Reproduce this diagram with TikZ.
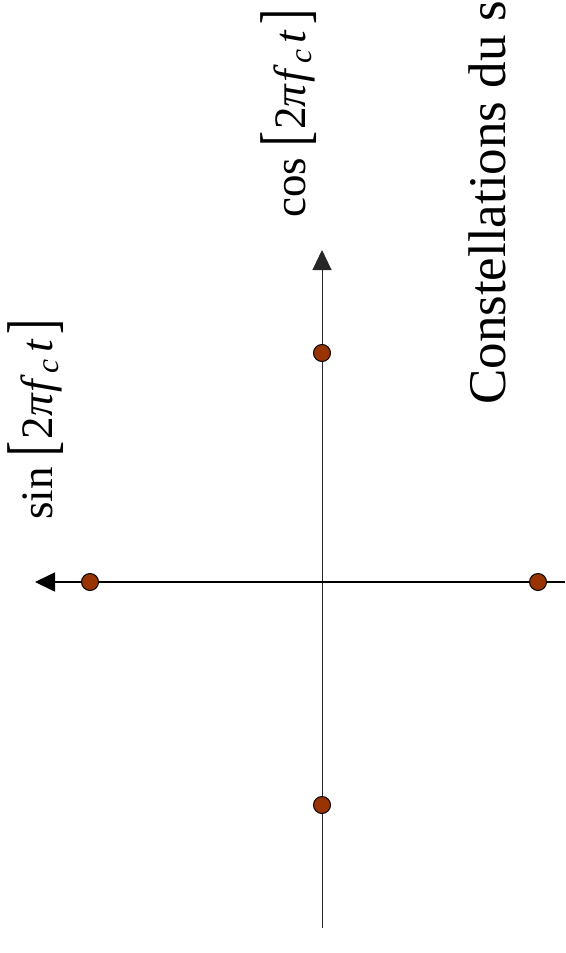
\documentclass[tikz,border=0pt]{standalone}
\usepackage{fontspec}
\setmainfont{Liberation Serif}
\usepackage{tikz}
\usetikzlibrary{arrows.meta}

\definecolor{symred}{RGB}{153,51,0}

\newcommand{\lbrk}{\raisebox{-2pt}{\scalebox{1}[1.5]{[}}}
\newcommand{\rbrk}{\raisebox{-2pt}{\scalebox{1}[1.5]{]}}}
\newcommand{\carrier}{\lbrk\kern2pt 2\textit{π\kern2pt f}\kern1pt\textsubscript{\textit{c}}\kern6pt\textit{t}\kern5pt\rbrk}

\begin{document}
\begin{tikzpicture}[
    x=1pt, y=-1pt,
    axis/.style={-{Triangle[length=20pt, width=19pt]}},
    symbol/.style={
        circle, draw=black, line width=1pt, fill=symred,
        minimum size=17pt, inner sep=0pt
    },
    axislabel/.style={
        rotate=90, anchor=base west, inner sep=0pt,
        font=\fontsize{45}{54}\selectfont
    },
    headline/.style={
        rotate=90, anchor=base west, inner sep=0pt,
        font=\fontsize{53}{64}\selectfont
    },
]

% ── frame ──
\useasboundingbox (0,0) rectangle (565,953);
\clip (0,0) rectangle (565,953);

% ── axis ends ──
\coordinate (cosstart) at (322,928);
\coordinate (cosend) at (322,250);
\coordinate (sinstart) at (565,582);
\coordinate (sinend) at (35,582);

\draw[axis, line width=1pt, draw=black!85] (cosstart) -- (cosend);
\draw[axis, line width=1.6pt] (sinstart) -- (sinend);

% ── symbols ──
\node[symbol] (s0) at (322,353) {};
\node[symbol] (s1) at (90,582) {};
\node[symbol] (s2) at (322,805) {};
\node[symbol] (s3) at (538,582) {};

% ── labels ──
\node[axislabel] (coslabel) at (305,218) {cos \carrier};
\node[axislabel] (sinlabel) at (52,520) {sin \carrier};
\node[headline] (title) at (505,405) {Constellations du s};

\end{tikzpicture}
\end{document}
